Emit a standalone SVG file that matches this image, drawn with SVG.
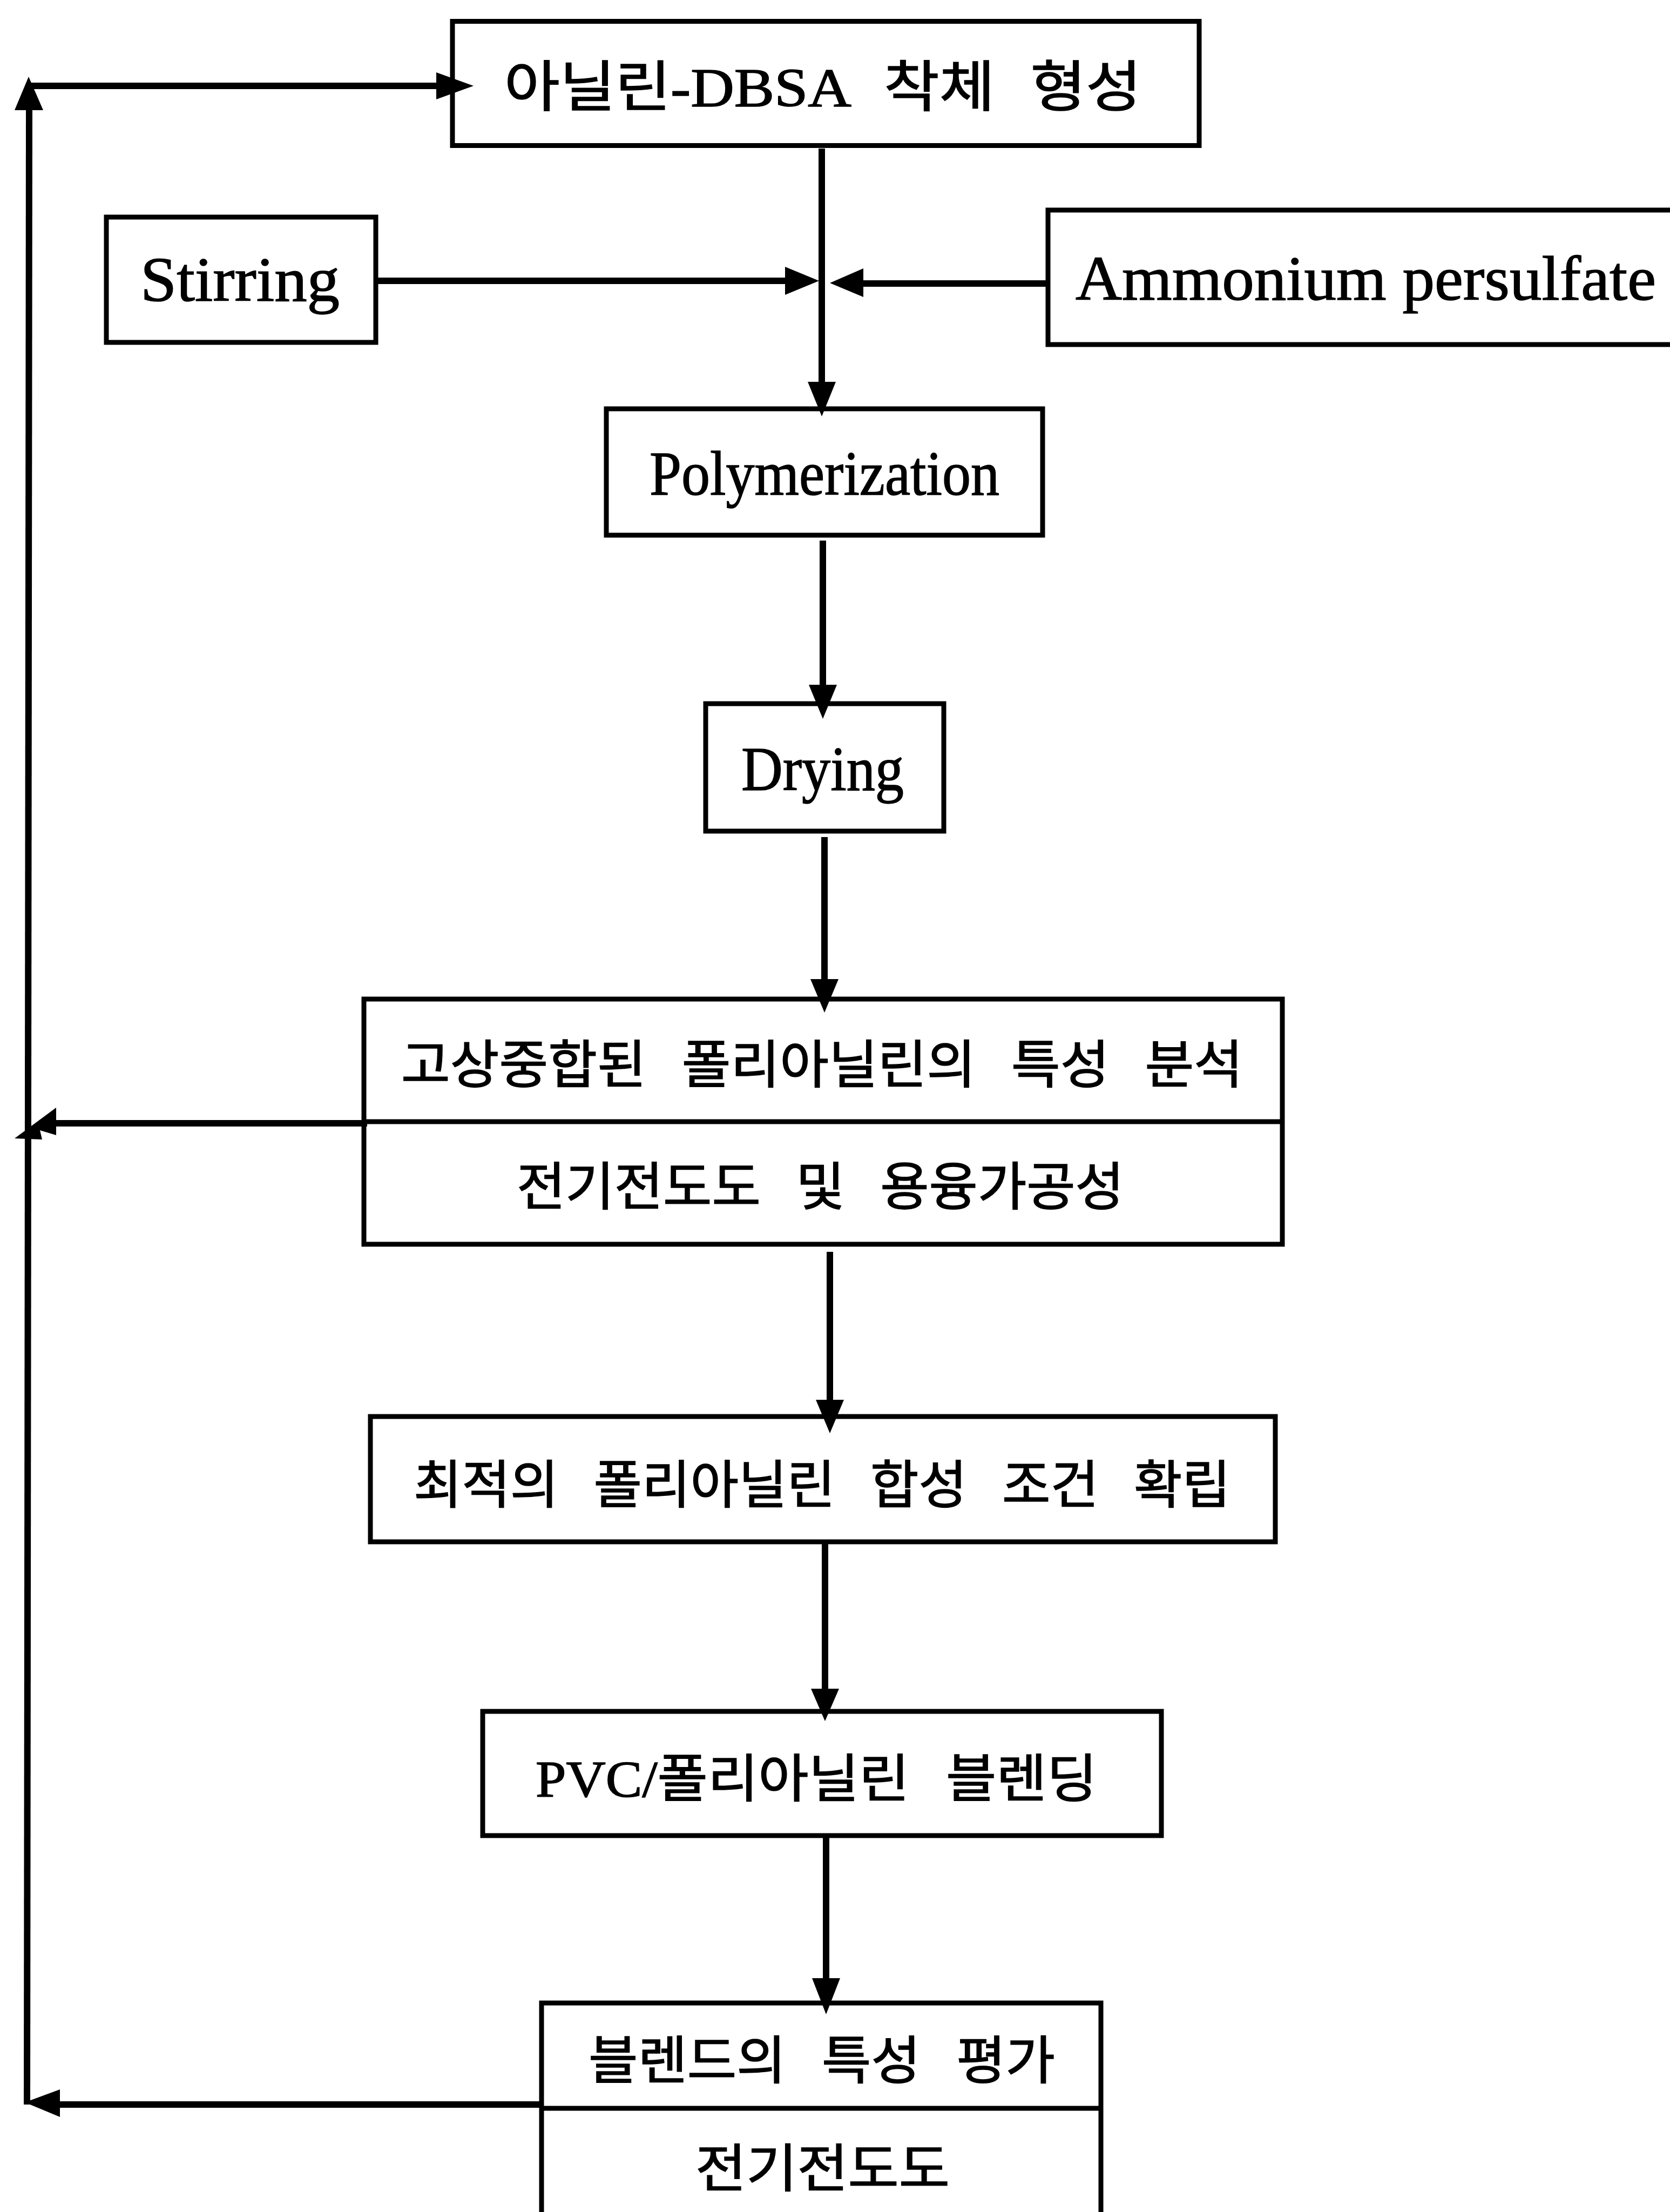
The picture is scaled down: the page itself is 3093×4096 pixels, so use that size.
<svg xmlns="http://www.w3.org/2000/svg" width="3093" height="4096" viewBox="0 0 3093 4096">
  <style>
    .box { fill: #ffffff; stroke: #000000; stroke-width: 9; }
    .div { fill: none; stroke: #000000; stroke-width: 9; }
    .line { fill: none; stroke: #000000; stroke-width: 12; stroke-linecap: butt; stroke-linejoin: miter; }
    .head { fill: #000000; stroke: none; }
    .en { font-family: "Liberation Serif", "Times New Roman", serif; font-size: 117px; fill: #000000; stroke: #000000; stroke-width: 1.5; }
    .ko { font-family: "Liberation Serif", "Noto Sans CJK KR", sans-serif; font-size: 96px; word-spacing: 40px; fill: #000000; stroke: #000000; stroke-width: 1.6; }
    .ko-top { font-family: "Liberation Serif", "Noto Sans CJK KR", sans-serif; font-size: 102px; word-spacing: 35px; fill: #000000; stroke: #000000; stroke-width: 1.6; }
  </style>

  <rect width="3093" height="4096" fill="#ffffff"/>

  <!-- process boxes -->
  <g id="node-complex">
    <rect class="box" x="838" y="39.5" width="1383" height="230"/>
    <text class="ko-top" x="934" y="197" textLength="1180" lengthAdjust="spacingAndGlyphs">아닐린-DBSA 착체 형성</text>
  </g>

  <g id="node-stirring">
    <rect class="box" x="197" y="402" width="499" height="232"/>
    <text class="en" x="260" y="557" textLength="369" lengthAdjust="spacingAndGlyphs">Stirring</text>
  </g>

  <g id="node-aps">
    <rect class="box" x="1941" y="389" width="1300" height="249"/>
    <text class="en" x="1992" y="555" textLength="1075" lengthAdjust="spacingAndGlyphs">Ammonium persulfate</text>
  </g>

  <g id="node-polymerization">
    <rect class="box" x="1123" y="757" width="808" height="234"/>
    <text class="en" x="1203" y="916" textLength="648" lengthAdjust="spacingAndGlyphs">Polymerization</text>
  </g>

  <g id="node-drying">
    <rect class="box" x="1307" y="1303" width="441" height="236"/>
    <text class="en" x="1373" y="1463" textLength="301" lengthAdjust="spacingAndGlyphs">Drying</text>
  </g>

  <g id="node-analysis">
    <rect class="box" x="674" y="1850" width="1701" height="454"/>
    <line class="div" x1="674" y1="2077" x2="2375" y2="2077"/>
    <text class="ko" x="743" y="2005" textLength="1559" lengthAdjust="spacingAndGlyphs">고상중합된 폴리아닐린의 특성 분석</text>
    <text class="ko" x="957" y="2231" textLength="1125" lengthAdjust="spacingAndGlyphs">전기전도도 및 용융가공성</text>
  </g>

  <g id="node-optimum">
    <rect class="box" x="686" y="2623" width="1676" height="232"/>
    <text class="ko" x="766" y="2783" textLength="1513" lengthAdjust="spacingAndGlyphs">최적의 폴리아닐린 합성 조건 확립</text>
  </g>

  <g id="node-blending">
    <rect class="box" x="894" y="3169" width="1257" height="230"/>
    <text class="ko" x="992" y="3327" textLength="1040" lengthAdjust="spacingAndGlyphs">PVC/폴리아닐린 블렌딩</text>
  </g>

  <g id="node-evaluation">
    <rect class="box" x="1003" y="3709" width="1036" height="500"/>
    <line class="div" x1="1003" y1="3904" x2="2039" y2="3904"/>
    <text class="ko" x="1090" y="3849" textLength="864" lengthAdjust="spacingAndGlyphs">블렌드의 특성 평가</text>
    <text class="ko" x="1288" y="4049" textLength="471" lengthAdjust="spacingAndGlyphs">전기전도도</text>
  </g>

  <!-- connectors -->
  <g id="connectors">
    <!-- feedback loop along the left edge -->
    <path class="line" d="M50,3897 L54,200"/>
    <polygon class="head" points="53,142 27,204 80,204"/>
    <path class="line" d="M54,159 L810,159"/>
    <polygon class="head" points="877,159 808,134 808,184"/>

    <path class="line" d="M680,2080 L100,2080"/>
    <polygon class="head" points="104,2051 27,2108 78,2110 74,2093 104,2102"/>

    <path class="line" d="M1003,3897 L106,3897"/>
    <polygon class="head" points="46,3893 111,3869 111,3920"/>

    <!-- reagent inputs -->
    <path class="line" d="M696,520 L1458,520"/>
    <polygon class="head" points="1517,520 1454,494 1454,546"/>
    <path class="line" d="M1941,525 L1595,525"/>
    <polygon class="head" points="1537,524 1599,497 1599,550"/>

    <!-- main process chain -->
    <path class="line" d="M1522,275 L1522,712"/>
    <polygon class="head" points="1522,771 1496,707 1548,707"/>

    <path class="line" d="M1524,1001 L1524,1272"/>
    <polygon class="head" points="1524,1331 1498,1268 1550,1268"/>

    <path class="line" d="M1527,1550 L1527,1819"/>
    <polygon class="head" points="1527,1875 1501,1813 1553,1813"/>

    <path class="line" d="M1537,2318 L1537,2596"/>
    <polygon class="head" points="1537,2654 1511,2592 1563,2592"/>

    <path class="line" d="M1528,2856 L1528,3132"/>
    <polygon class="head" points="1528,3187 1502,3127 1554,3127"/>

    <path class="line" d="M1530,3400 L1530,3667"/>
    <polygon class="head" points="1530,3730 1504,3663 1556,3663"/>
  </g>
</svg>
